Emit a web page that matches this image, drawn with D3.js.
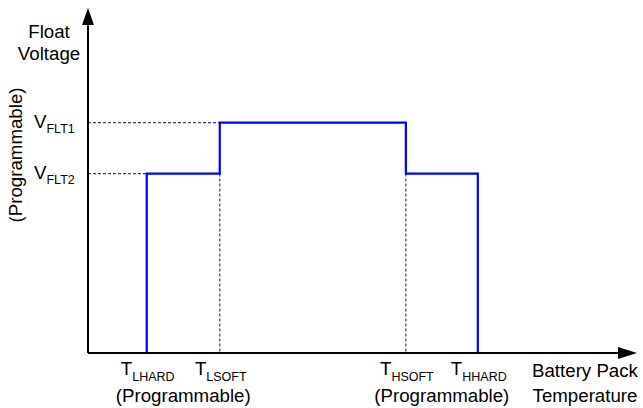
<!DOCTYPE html>
<html>
<head>
<meta charset="utf-8">
<script src="https://cdn.jsdelivr.net/npm/d3@7"></script>
<style>
  body { margin: 0; background: #fff; }
  svg text { font-family: "Liberation Sans", Arial, sans-serif; fill: #000; }
</style>
</head>
<body>
<svg id="chart" width="643" height="408"></svg>
<script>
// breakpoints on the temperature axis (arbitrary units, 0..100)
var tempNames = ["LHARD", "LSOFT", "HSOFT", "HHARD"];
var tempValues = [10.7, 24.0, 57.9, 71.0];

// float voltage levels (arbitrary units, 0..100)
var voltNames = ["FLT1", "FLT2"];
var voltValues = [66.8, 52.0];

// the float voltage profile, as corner points
var profileT = [10.7, 10.7, 24.0, 24.0, 57.9, 57.9, 71.0, 71.0];
var profileV = [0, 52.0, 52.0, 66.8, 66.8, 52.0, 52.0, 0];

var svg = d3.select("#chart");

var x = d3.scaleLinear().domain([0, 100]).range([88, 637]);
var y = d3.scaleLinear().domain([0, 100]).range([353, 8]);

var mainSize = 18.7, subSize = 12.5;

// dashed guide lines
var guides = [
  { x1: 0, y1: voltValues[1], x2: tempValues[0], y2: voltValues[1] },
  { x1: 0, y1: voltValues[0], x2: tempValues[1], y2: voltValues[0] },
  { x1: tempValues[1], y1: voltValues[1], x2: tempValues[1], y2: 0 },
  { x1: tempValues[2], y1: voltValues[1], x2: tempValues[2], y2: 0 }
];

svg.selectAll(".guide")
    .data(guides)
  .enter().append("line")
    .attr("class", "guide")
    .attr("x1", function(d) { return x(d.x1); })
    .attr("y1", function(d) { return y(d.y1); })
    .attr("x2", function(d) { return x(d.x2); })
    .attr("y2", function(d) { return y(d.y2); })
    .attr("stroke", "#444")
    .attr("stroke-width", 1.2)
    .attr("stroke-dasharray", "3,2");

// the profile itself
var pts = profileT.map(function(t, i) { return [t, profileV[i]]; });
var line = d3.line()
    .x(function(d) { return x(d[0]); })
    .y(function(d) { return y(d[1]); });

svg.append("path")
    .attr("d", line(pts))
    .attr("fill", "none")
    .attr("stroke", "#0000ff")
    .attr("stroke-width", 2.2);

// axes with arrow heads
svg.append("line")
    .attr("x1", x(0)).attr("y1", y(0))
    .attr("x2", x(0)).attr("y2", y(95))
    .attr("stroke", "#000").attr("stroke-width", 2);
svg.append("path")
    .attr("d", "M" + x(0) + "," + y(100) + "L" + (x(0) - 6) + "," + (y(100) + 17) + "L" + (x(0) + 6) + "," + (y(100) + 17) + "Z")
    .attr("fill", "#000");

svg.append("line")
    .attr("x1", x(0)).attr("y1", y(0))
    .attr("x2", x(97)).attr("y2", y(0))
    .attr("stroke", "#000").attr("stroke-width", 2);
svg.append("path")
    .attr("d", "M" + x(100) + "," + y(0) + "L" + (x(100) - 19) + "," + (y(0) - 6) + "L" + (x(100) - 19) + "," + (y(0) + 6) + "Z")
    .attr("fill", "#000");

// axis titles
svg.append("text").attr("x", 49).attr("y", 38).attr("text-anchor", "middle")
    .style("font-size", mainSize + "px").text("Float");
svg.append("text").attr("x", 49).attr("y", 60).attr("text-anchor", "middle")
    .style("font-size", mainSize + "px").text("Voltage");
svg.append("text")
    .attr("transform", "translate(22,155) rotate(-90)")
    .attr("text-anchor", "middle")
    .style("font-size", mainSize + "px").text("(Programmable)");

svg.append("text").attr("x", 585).attr("y", 377).attr("text-anchor", "middle")
    .style("font-size", mainSize + "px").text("Battery Pack");
svg.append("text").attr("x", 585).attr("y", 402).attr("text-anchor", "middle")
    .style("font-size", mainSize + "px").text("Temperature");

// voltage level labels
svg.selectAll(".vlab")
    .data(voltNames)
  .enter().append("text")
    .attr("class", "vlab")
    .attr("x", 34)
    .attr("y", function(d, i) { return y(voltValues[i]) + 5; })
    .style("font-size", mainSize + "px")
    .each(function(d) {
      d3.select(this).append("tspan").text("V");
      d3.select(this).append("tspan").attr("dy", 5).style("font-size", subSize + "px").text(d);
    });

// temperature breakpoint labels
svg.selectAll(".tlab")
    .data(tempNames)
  .enter().append("text")
    .attr("class", "tlab")
    .attr("x", function(d, i) { return x(tempValues[i]) + 1; })
    .attr("y", 375)
    .attr("text-anchor", "middle")
    .style("font-size", mainSize + "px")
    .each(function(d) {
      d3.select(this).append("tspan").text("T");
      d3.select(this).append("tspan").attr("dy", 6).style("font-size", subSize + "px").text(d);
    });

// "(Programmable)" under each pair
[[0, 1], [2, 3]].forEach(function(p) {
  svg.append("text")
      .attr("x", (x(tempValues[p[0]]) + x(tempValues[p[1]])) / 2)
      .attr("y", 402)
      .attr("text-anchor", "middle")
      .style("font-size", mainSize + "px")
      .text("(Programmable)");
});
</script>
</body>
</html>
